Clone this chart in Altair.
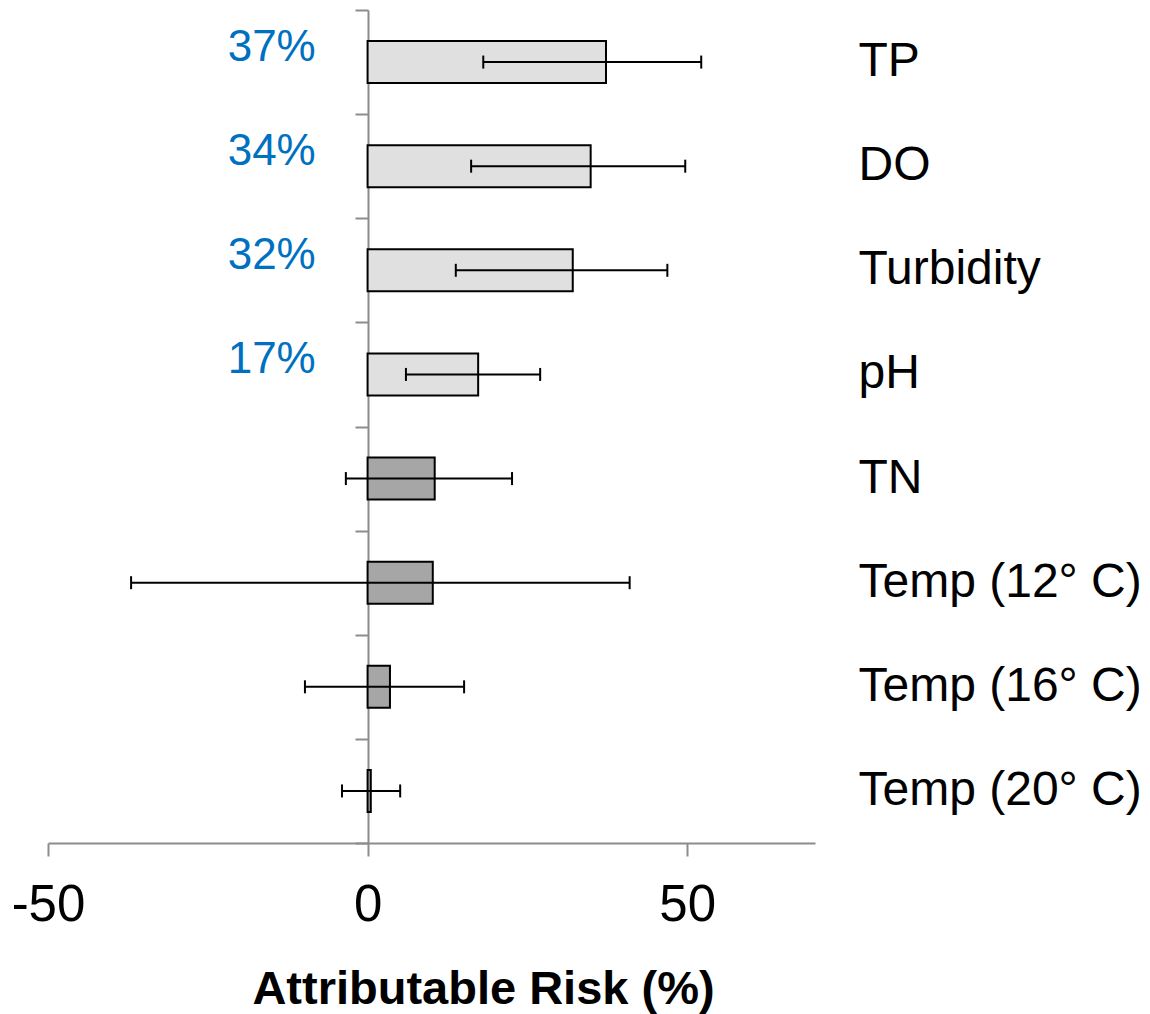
import altair as alt
import pandas as pd

categories = ["TP", "DO", "Turbidity", "pH", "TN", "Temp (12° C)", "Temp (16° C)", "Temp (20° C)"]
risk = [37.3, 34.9, 32.1, 17.3, 10.5, 10.2, 3.5, 0.5]
ci_low = [18.1, 16.2, 13.8, 6.0, -3.4, -37.0, -9.8, -4.0]
ci_high = [52.2, 49.7, 46.9, 27.0, 22.6, 41.0, 15.1, 5.1]
group = ["sig", "sig", "sig", "sig", "ns", "ns", "ns", "ns"]
pct_labels = ["37%", "34%", "32%", "17%", "", "", "", ""]

df = pd.DataFrame({
    "cat": categories,
    "risk": risk,
    "lo": ci_low,
    "hi": ci_high,
    "grp": group,
    "pct": pct_labels,
})

GREY = "#8C8C8C"
FONT = "Liberation Sans"

xscale = alt.Scale(domain=[-50, 70], nice=False)
yscale = alt.Scale(domain=categories, paddingInner=0, paddingOuter=0)

xaxis = alt.Axis(
    values=[-50, 0, 50], grid=False, tickSize=13, tickWidth=2, tickColor=GREY,
    domainColor=GREY, domainWidth=2, labelFontSize=51, labelFont=FONT,
    labelExpr="'' + datum.value",
    labelColor="black", labelPadding=24, labelFlush=False,
    title="Attributable Risk (%)", titleFont=FONT, titleFontSize=47, titleFontWeight="bold",
    titleColor="black", titleX=435, titleY=160, titleBaseline="alphabetic", titleAlign="center",
)

yaxis_left = alt.Axis(
    orient="left", offset=-320, labels=False, title=None, tickSize=13, tickWidth=2,
    tickColor=GREY, domainColor=GREY, domainWidth=2, tickBand="extent", grid=False,
)

yaxis_right = alt.Axis(
    orient="right", domain=False, ticks=False, tickSize=0, title=None, labelPadding=43,
    labelFont=FONT, labelFontSize=48, labelColor="black", labelLimit=500, labelAlign="left",
    grid=False,
)

base = alt.Chart(df)

bars = base.mark_bar(size=42, stroke="black", strokeWidth=2).encode(
    x=alt.X("risk:Q", scale=xscale, axis=xaxis),
    x2=alt.datum(0),
    y=alt.Y("cat:N", sort=categories, scale=yscale, axis=yaxis_left),
    fill=alt.Fill("grp:N", scale=alt.Scale(domain=["sig", "ns"], range=["#E0E0E0", "#A6A6A6"]), legend=None),
)

rule = base.mark_rule(color="black", strokeWidth=2).encode(
    x=alt.X("lo:Q", scale=xscale, axis=xaxis),
    x2="hi:Q",
    y=alt.Y("cat:N", sort=categories, scale=yscale, axis=yaxis_right),
)

caps = base.transform_fold(["lo", "hi"], as_=["end", "val"]).mark_tick(
    color="black", thickness=2, size=13, opacity=1
).encode(
    x=alt.X("val:Q", scale=xscale, axis=xaxis),
    y=alt.Y("cat:N", sort=categories, scale=yscale, axis=None),
)

labels = base.mark_text(color="#0070C0", fontSize=44, font=FONT, dy=-14, align="center", baseline="middle").encode(
    x=alt.datum(-15),
    y=alt.Y("cat:N", sort=categories, scale=yscale, axis=None),
    text="pct:N",
)

chart = alt.layer(bars, rule, caps, labels).resolve_axis(y="independent").properties(
    width=767,
    height=833,
    autosize=alt.AutoSizeParams(type="none"),
    padding={"left": 48, "top": 10, "right": 335, "bottom": 171},
    background="white",
).configure_view(stroke=None)

chart.save("out.html", embed_options={"renderer": "svg", "actions": False})
